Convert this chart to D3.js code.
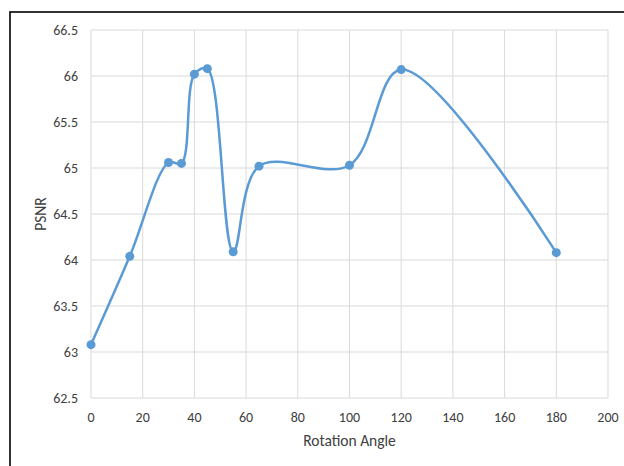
<!DOCTYPE html>
<html>
<head>
<meta charset="utf-8">
<script src="https://cdn.jsdelivr.net/npm/d3@7"></script>
<style>
  body { margin: 0; background: #fff; }
  text { font-family: Carlito, "Open Sans", "Liberation Sans", sans-serif; fill: #404040; }
</style>
</head>
<body>
<div id="chart"></div>
<script>
// data
var angles = [0, 15, 30, 35, 40, 45, 55, 65, 100, 120, 180];
var psnr = [63.08, 64.04, 65.06, 65.05, 66.02, 66.08, 64.09, 65.02, 65.03, 66.07, 64.08];
var xTicks = [0, 20, 40, 60, 80, 100, 120, 140, 160, 180, 200];
var yTicks = [62.5, 63, 63.5, 64, 64.5, 65, 65.5, 66, 66.5];

var outerwidth = 624, outerheight = 466;
var margin = {left: 91, right: 16, top: 30, bottom: 68};

var svg = d3.select("#chart").append("svg")
	.attr("width", outerwidth)
	.attr("height", outerheight);

// outer frame, cut off at right and bottom
svg.append("rect")
	.attr("x", 10).attr("y", 12)
	.attr("width", 700).attr("height", 600)
	.style("fill", "none")
	.style("stroke", "#000")
	.style("stroke-width", 1.6);

var x = d3.scaleLinear().domain([0, 200]).range([margin.left, outerwidth - margin.right]);
var y = d3.scaleLinear().domain([62.5, 66.5]).range([outerheight - margin.bottom, margin.top]);

// gridlines
svg.append("g").selectAll("line")
	.data(yTicks).enter().append("line")
	.attr("x1", x(0)).attr("x2", x(200))
	.attr("y1", d => y(d)).attr("y2", d => y(d))
	.style("stroke", "#d9d9d9");

svg.append("g").selectAll("line")
	.data(xTicks).enter().append("line")
	.attr("x1", d => x(d)).attr("x2", d => x(d))
	.attr("y1", y(62.5)).attr("y2", y(66.5))
	.style("stroke", "#d9d9d9");

// tick labels
svg.append("g").selectAll("text")
	.data(yTicks).enter().append("text")
	.attr("x", 78)
	.attr("y", d => y(d) + 5)
	.attr("text-anchor", "end")
	.style("font-size", "14px")
	.text(d => d);

svg.append("g").selectAll("text")
	.data(xTicks).enter().append("text")
	.attr("x", d => x(d))
	.attr("y", 422)
	.attr("text-anchor", "middle")
	.style("font-size", "14px")
	.text(d => d);

// axis titles
svg.append("text")
	.attr("x", (x(0) + x(200)) / 2)
	.attr("y", 446)
	.attr("text-anchor", "middle")
	.style("font-size", "15.5px")
	.text("Rotation Angle");

svg.append("text")
	.attr("transform", "translate(46," + (y(64.5)) + ") rotate(-90)")
	.attr("text-anchor", "middle")
	.style("font-size", "15.5px")
	.text("PSNR");

// smoothed line like excel
var pts = angles.map((a, i) => [a, psnr[i]]);
var line = d3.line()
	.x(d => x(d[0]))
	.y(d => y(d[1]))
	.curve(d3.curveCatmullRom.alpha(0.5));

svg.append("path")
	.datum(pts)
	.attr("d", line)
	.style("fill", "none")
	.style("stroke", "#5b9bd5")
	.style("stroke-width", 2.5);

svg.append("g").selectAll("circle")
	.data(pts).enter().append("circle")
	.attr("cx", d => x(d[0]))
	.attr("cy", d => y(d[1]))
	.attr("r", 4.5)
	.style("fill", "#5b9bd5");
</script>
</body>
</html>
